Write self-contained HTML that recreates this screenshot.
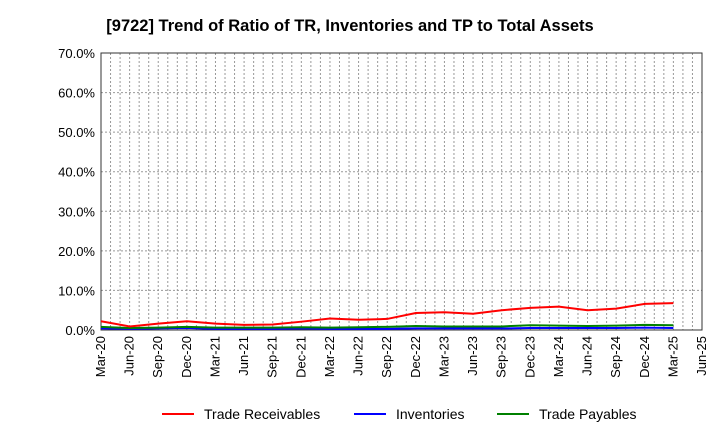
<!DOCTYPE html>
<html><head><meta charset="utf-8"><style>
body{margin:0;background:#fff;font-family:"Liberation Sans",sans-serif;}
</style></head><body>
<svg id="c" width="720" height="440" xmlns="http://www.w3.org/2000/svg">
<text x="350" y="31" text-anchor="middle" font-size="16.5" font-weight="bold" font-family="Liberation Sans, sans-serif">[9722]  Trend of Ratio of TR, Inventories and TP to Total Assets</text>
<g id="grid"></g><g id="axes"></g><g id="series"></g>
<g font-size="14" font-family="Liberation Sans, sans-serif">
<line x1="162" y1="414" x2="194" y2="414" stroke="#f00" stroke-width="2"/><text x="204" y="419">Trade Receivables</text>
<line x1="354" y1="414" x2="386" y2="414" stroke="#00f" stroke-width="2"/><text x="396" y="419">Inventories</text>
<line x1="497" y1="414" x2="529" y2="414" stroke="#008000" stroke-width="2"/><text x="539" y="419">Trade Payables</text>
</g>
</svg>
<script>
const xLabels=["Mar-20","Jun-20","Sep-20","Dec-20","Mar-21","Jun-21","Sep-21","Dec-21","Mar-22","Jun-22","Sep-22","Dec-22","Mar-23","Jun-23","Sep-23","Dec-23","Mar-24","Jun-24","Sep-24","Dec-24","Mar-25","Jun-25"];
const yTicks=[0,10,20,30,40,50,60,70];
const receivables=[2.2,0.9,1.6,2.2,1.6,1.3,1.4,2.1,2.9,2.6,2.8,4.3,4.5,4.1,5.0,5.6,5.9,5.0,5.4,6.6,6.8];
const inventories=[0.4,0.3,0.4,0.5,0.3,0.3,0.3,0.4,0.3,0.3,0.3,0.4,0.4,0.4,0.4,0.5,0.5,0.5,0.5,0.6,0.5];
const payables=[0.8,0.5,0.6,0.8,0.6,0.6,0.6,0.7,0.6,0.7,0.8,1.0,0.9,0.9,0.9,1.2,1.1,1.0,1.1,1.3,1.2];
const NS="http://www.w3.org/2000/svg";
const L=101,R=702,T=53,B=330;
const xs=i=>L+(R-L)*i/(xLabels.length-1);
const ys=v=>B-(B-T)*v/70;
function mk(tag,attrs,parent){const e=document.createElementNS(NS,tag);for(const k in attrs)e.setAttribute(k,attrs[k]);parent.appendChild(e);return e;}
const grid=document.getElementById('grid'),axes=document.getElementById('axes'),ser=document.getElementById('series');
const months=(xLabels.length-1)*3;
for(let m=1;m<months;m++){const x=L+(R-L)*m/months;const g=mk('line',{x1:x,x2:x,y1:T,y2:B,stroke:'#999','stroke-dasharray':'2,2','stroke-width':1},grid);

}
yTicks.forEach(v=>{const y=ys(v);
if(v>0){const g=mk('line',{x1:L,x2:R,y1:y,y2:y,stroke:'#999','stroke-dasharray':'2,2'},grid);

}
const t=mk('text',{x:L-6,y:y+5,'text-anchor':'end','font-size':13,'font-family':'Liberation Sans, sans-serif'},axes);t.textContent=v.toFixed(1)+'%';

});
xLabels.forEach((s,i)=>{const x=xs(i);const t=mk('text',{x:x+4,y:B+6,'text-anchor':'end','font-size':13,'font-family':'Liberation Sans, sans-serif',transform:`rotate(-90 ${x+4} ${B+6})`},axes);t.textContent=s;

});
const fr=mk('rect',{x:L,y:T,width:R-L,height:B-T,fill:'none',stroke:'#333','stroke-width':1},axes);


[[inventories,'#00f','inventories-line'],[payables,'#008000','trade-payables-line'],[receivables,'#f00','trade-receivables-line']].forEach(([d,c,n])=>{
const p=mk('polyline',{points:d.map((v,i)=>xs(i)+','+ys(v)).join(' '),fill:'none',stroke:c,'stroke-width':2},ser);

});
</script>
</body></html>
